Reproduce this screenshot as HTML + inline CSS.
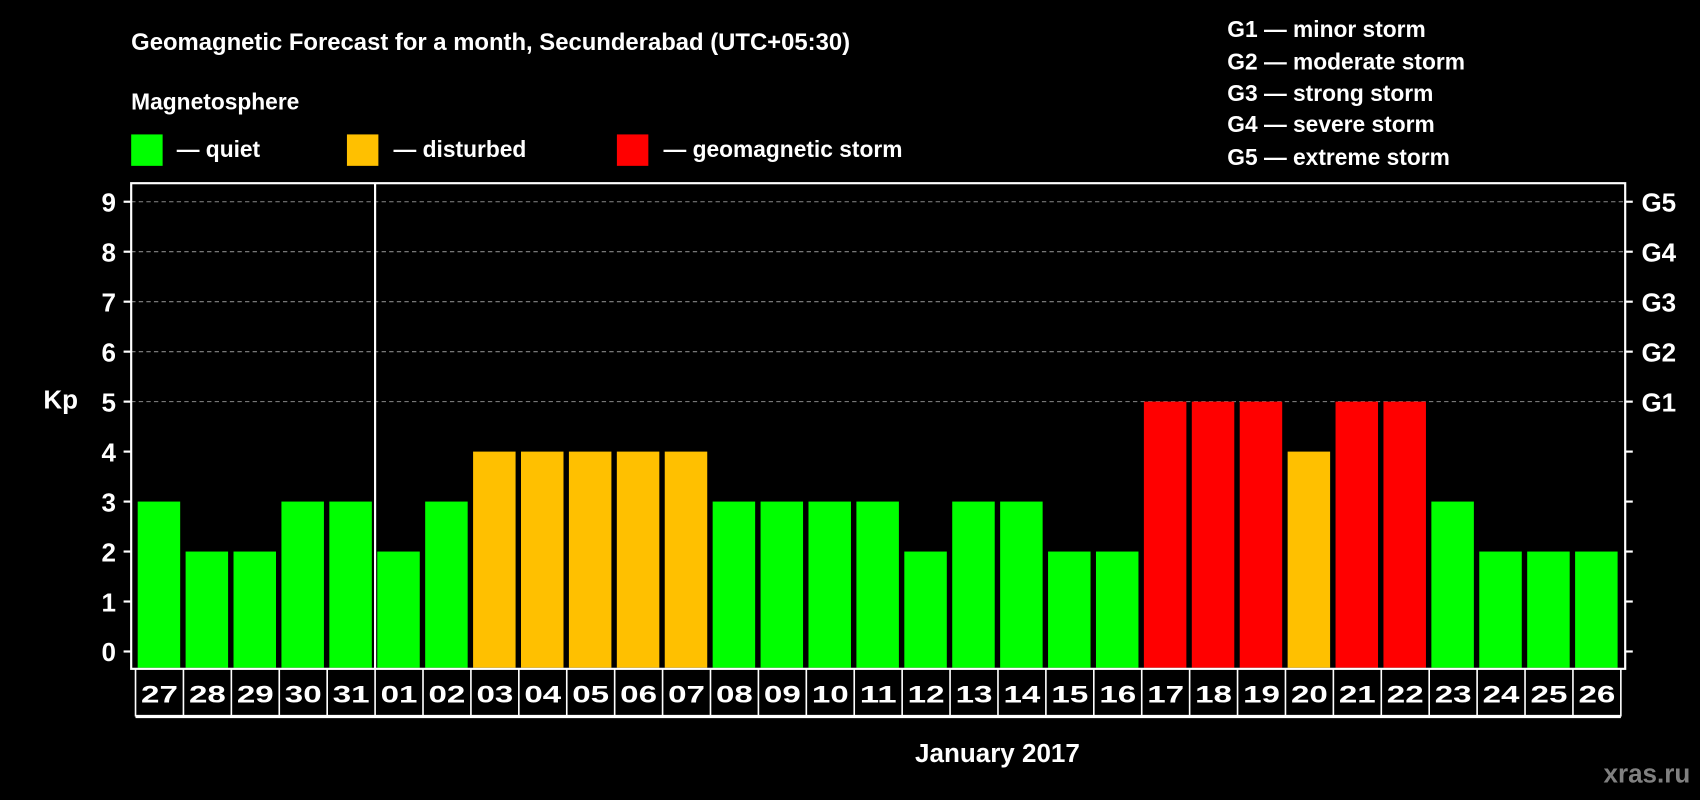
<!DOCTYPE html>
<html><head><meta charset="utf-8"><style>
html,body{margin:0;padding:0;background:#000;width:1700px;height:800px;overflow:hidden}
svg{display:block}
text{font-family:"Liberation Sans",Arial,sans-serif;font-weight:bold;fill:#fff}
</style></head><body>
<svg id="chart" width="1700" height="800" viewBox="0 0 1568 738" preserveAspectRatio="none" xmlns="http://www.w3.org/2000/svg">
<rect width="1568" height="738" fill="#000"/>
<text x="121" y="46" font-size="22">Geomagnetic Forecast for a month, Secunderabad (UTC+05:30)</text>
<text x="121" y="101" font-size="21">Magnetosphere</text>
<g><rect x="121" y="124" width="29" height="29" fill="#00ff00"/><text x="163" y="145" font-size="21">— quiet</text></g>
<g><rect x="320" y="124" width="29" height="29" fill="#ffc000"/><text x="363" y="145" font-size="21">— disturbed</text></g>
<g><rect x="569" y="124" width="29" height="29" fill="#ff0000"/><text x="612" y="145" font-size="21">— geomagnetic storm</text></g>
<g font-size="21">
<text x="1132" y="34">G1 — minor storm</text>
<text x="1132" y="64">G2 — moderate storm</text>
<text x="1132" y="93">G3 — strong storm</text>
<text x="1132" y="122">G4 — severe storm</text>
<text x="1132" y="152">G5 — extreme storm</text>
</g>
<g id="grid"></g>
<g id="bars"></g>
<g id="axes"></g>
<text x="40" y="377" font-size="24">Kp</text>
<text x="920" y="703" font-size="24" text-anchor="middle">January 2017</text>
<text x="1559" y="722" font-size="24" text-anchor="end" style="fill:#808080">xras.ru</text>
</svg>
<script>
const days = ["27","28","29","30","31","01","02","03","04","05","06","07","08","09","10","11","12","13","14","15","16","17","18","19","20","21","22","23","24","25","26"];
const kpValues = [3,2,2,3,3,2,3,4,4,4,4,4,3,3,3,3,2,3,3,2,2,5,5,5,4,5,5,3,2,2,2];
const yTicks = [0,1,2,3,4,5,6,7,8,9];
const gLabels = ["G1","G2","G3","G4","G5"];
const gLevels = [5,6,7,8,9];

const NS="http://www.w3.org/2000/svg";
const L=121,R=1499,T=169,B=617,x0=125,pitch=(1495-125)/31;
function y(v){return 601-v*46.1;}
function x(i){return x0+i*pitch;}
function mk(tag,attrs,parent){const e=document.createElementNS(NS,tag);for(const k in attrs)e.setAttribute(k,attrs[k]);parent.appendChild(e);return e;}
const grid=document.getElementById('grid'),bars=document.getElementById('bars'),axes=document.getElementById('axes');
yTicks.forEach(v=>{
  if(v>=5){const g=mk('line',{x1:L,x2:R,y1:y(v),y2:y(v),stroke:'#888','stroke-dasharray':'4,3','stroke-width':1},grid);
    
    }
  const t=mk('line',{x1:L-7,x2:L,y1:y(v),y2:y(v),stroke:'#fff','stroke-width':2},axes);
  
  
  const t2=mk('line',{x1:R,x2:R+7,y1:y(v),y2:y(v),stroke:'#fff','stroke-width':2},axes);
  
  
  const lb=mk('text',{x:107,y:y(v)+9,'font-size':24,'text-anchor':'end'},axes);
  lb.textContent=v;
  
  
});
gLevels.forEach((v,i)=>{
  const lb=mk('text',{x:1514,y:y(v)+9,'font-size':24},axes);
  lb.textContent=gLabels[i];
  
  
});
kpValues.forEach((v,i)=>{
  const c=v>=5?'#ff0000':(v>=4?'#ffc000':'#00ff00');
  const r=mk('rect',{x:x(i)+2,y:y(v),width:pitch-5,height:B-1-y(v),fill:c},bars);
  
  
  const bx=mk('line',{x1:x(i),x2:x(i),y1:B,y2:661,stroke:'#fff','stroke-width':1.5},axes);
  
  
  const lb=mk('text',{x:x(i)+pitch/2,y:648,'font-size':22,'text-anchor':'middle',textLength:34,lengthAdjust:'spacingAndGlyphs'},axes);
  lb.textContent=days[i];
  
  
});
const end=mk('line',{x1:x(31),x2:x(31),y1:B,y2:661,stroke:'#fff','stroke-width':1.5},axes);


const bl=mk('line',{x1:x0,x2:x(31),y1:661,y2:661,stroke:'#fff','stroke-width':3},axes);


const frame=mk('rect',{x:L,y:T,width:R-L,height:B-T,fill:'none',stroke:'#fff','stroke-width':2},axes);


const mline=mk('line',{x1:x(5),x2:x(5),y1:T,y2:B,stroke:'#fff','stroke-width':2},axes);


</script>
</body></html>
